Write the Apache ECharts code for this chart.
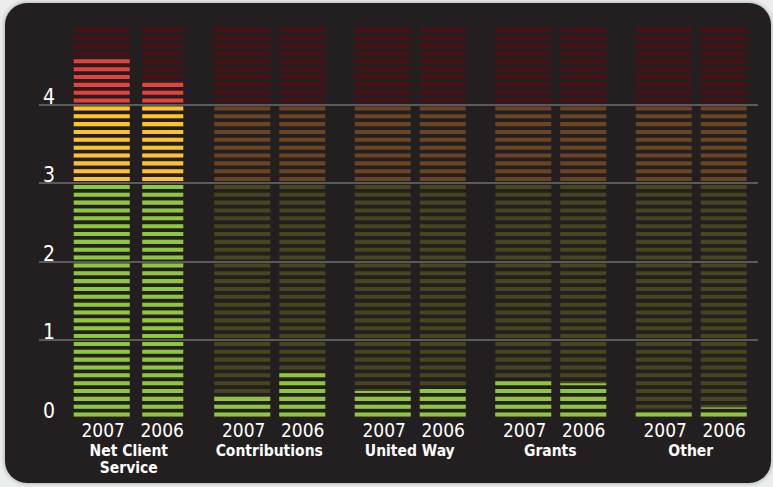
<!DOCTYPE html>
<html>
<head>
<meta charset="utf-8">
<script src="https://cdn.jsdelivr.net/npm/echarts@6/dist/echarts.min.js"></script>
<style>
  html, body { margin: 0; padding: 0; background: #eceded; width: 773px; height: 487px; overflow: hidden; }
  #panel { position: absolute; left: 5px; top: 3px; width: 766px; height: 480px; background: #231f20; border-radius: 22px; box-shadow: 0 0 5px rgba(0,0,0,0.35); }
  #chart { position: absolute; left: 0; top: 0; width: 773px; height: 487px; }
</style>
</head>
<body>
<div id="panel"></div>
<div id="chart"></div>
<script>
// ---- data ----
const categories = ['Net Client\nService', 'Contributions', 'United Way', 'Grants', 'Other'];
const years = ['2007', '2006'];
const values2007 = [4.6, 0.3, 0.35, 0.5, 0.1];
const values2006 = [4.3, 0.6, 0.4, 0.45, 0.14];
const yTicks = [0, 1, 2, 3, 4];
const yMax = 5;

// ---- style ----
const FONT = "'Liberation Sans Narrow', 'DejaVu Sans Condensed', sans-serif";
const STEP = 0.1;
const zones = [
  { upTo: 3, bright: '#8dc63f', dark: '#47461f' },
  { upTo: 4, bright: '#fbc22d', dark: '#6a4423' },
  { upTo: 5, bright: '#e8403a', dark: '#4c0f15' }
];
const layout2007 = [
  { offset: -55, width: 56 }, { offset: -55, width: 56 }, { offset: -55, width: 56 },
  { offset: -55, width: 56 }, { offset: -55, width: 56 }
];
const layout2006 = [
  { offset: 13.5, width: 41 }, { offset: 10, width: 46 }, { offset: 10, width: 46 },
  { offset: 10, width: 46 }, { offset: 10, width: 46 }
];

function zoneFor(v) {
  for (const z of zones) if (v < z.upTo) return z;
  return zones[zones.length - 1];
}

function makeRenderItem(layout) {
  return function (params, api) {
    const idx = api.value(0);
    const val = api.value(1);
    const c = api.coord([idx, 0]);
    const L = layout[idx];
    const x0 = c[0] + L.offset;
    const w = L.width;
    const n = Math.round(yMax / STEP);
    const children = [];
    for (let k = 0; k < n; k++) {
      const lo = k * STEP + STEP * 0.245;
      const hi = k * STEP + STEP * 0.755;
      const yLo = api.coord([idx, lo])[1];
      const yHi = api.coord([idx, hi])[1];
      const z = zoneFor(k * STEP + STEP / 2);
      children.push({ type: 'rect', shape: { x: x0, y: yHi, width: w, height: yLo - yHi }, style: { fill: z.dark } });
      if (val > lo) {
        const yTop = api.coord([idx, Math.min(val, hi)])[1];
        children.push({ type: 'rect', shape: { x: x0, y: yTop, width: w, height: yLo - yTop }, style: { fill: z.bright } });
      }
    }
    return { type: 'group', children };
  };
}

const chart = echarts.init(document.getElementById('chart'), null, { renderer: 'svg' });
chart.setOption({
  backgroundColor: 'transparent',
  animation: false,
  grid: [
    { left: 58.5, right: 12, top: 26, bottom: 68.5 },
    { left: 39, right: 15, top: 26, bottom: 68.5 }
  ],
  xAxis: [
    {
      type: 'category', gridIndex: 0, data: categories,
      axisLine: { show: false }, axisTick: { show: false }, splitLine: { show: false },
      axisLabel: {
        margin: -2, interval: 0,
        formatter: function (val) {
          return '{sp|}{yr|' + years[0] + '}{yr|' + years[1] + '}\n' +
            val.split('\n').map(s => '{g|' + s + '}').join('\n');
        },
        rich: {
          sp: { width: 8, lineHeight: 26 },
          yr: { width: 59, align: 'center', color: '#ffffff', fontSize: 19, lineHeight: 26, fontFamily: FONT },
          g: { align: 'center', color: '#ffffff', fontSize: 15.5, fontWeight: 'bold', lineHeight: 17, fontFamily: FONT }
        }
      }
    },
    { type: 'value', gridIndex: 1, show: false, min: 0, max: 1 }
  ],
  yAxis: [
    { type: 'value', gridIndex: 0, min: 0, max: yMax, show: false },
    {
      type: 'value', gridIndex: 1, min: 0, max: yMax, interval: 1, z: 10,
      axisLine: { show: false }, axisTick: { show: false },
      splitLine: { show: true, lineStyle: { width: 2, color: ['transparent', '#5a5b5d', '#5a5b5d', '#5a5b5d', '#5a5b5d', 'transparent'] } },
      axisLabel: {
        inside: true, margin: 4, verticalAlign: 'bottom', align: 'left',
        color: '#ffffff', fontSize: 21, fontFamily: FONT, lineHeight: 16,
        showMaxLabel: false,
        formatter: v => (yTicks.includes(v) ? String(v) : '')
      }
    }
  ],
  series: [
    { name: years[0], type: 'custom', xAxisIndex: 0, yAxisIndex: 0, renderItem: makeRenderItem(layout2007),
      data: values2007.map((v, i) => [i, v]) },
    { name: years[1], type: 'custom', xAxisIndex: 0, yAxisIndex: 0, renderItem: makeRenderItem(layout2006),
      data: values2006.map((v, i) => [i, v]) }
  ]
});
</script>
</body>
</html>
